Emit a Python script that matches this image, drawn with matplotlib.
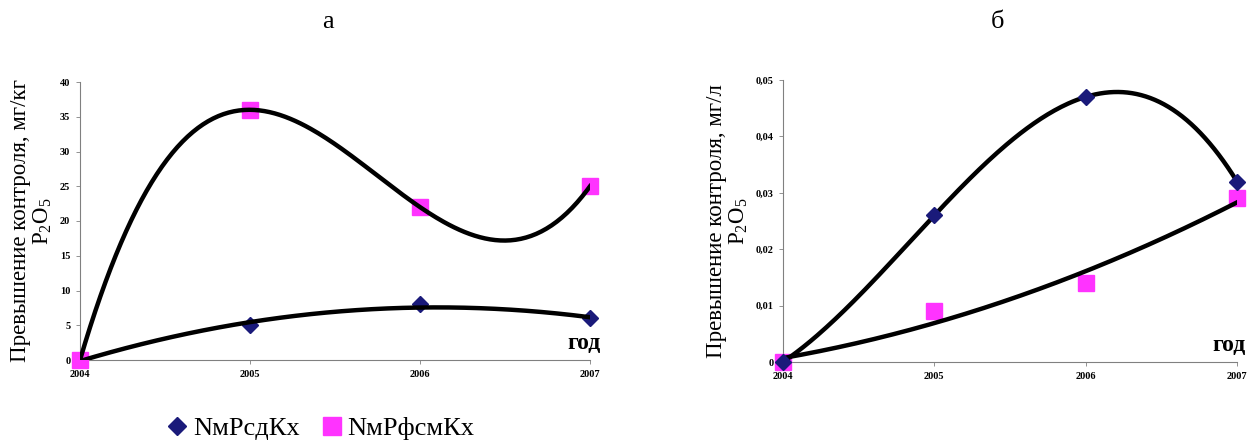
import matplotlib.pyplot as plt
import numpy as np

plt.rcParams['font.family'] = ['Liberation Serif', 'DejaVu Serif']
plt.rcParams['mathtext.fontset'] = 'custom'
plt.rcParams['mathtext.rm'] = 'Liberation Serif'
plt.rcParams['mathtext.it'] = 'Liberation Serif:italic'
plt.rcParams['mathtext.bf'] = 'Liberation Serif:bold'

years = [2004, 2005, 2006, 2007]
# a: мг/кг
a_sd = [0, 5, 8, 6]
a_fsm = [0, 36, 22, 25]
# б: мг/л
b_sd = [0, 0.026, 0.047, 0.032]
b_fsm = [0, 0.009, 0.014, 0.029]

names = ['NмРсдКх', 'NмРфсмКх']
navy = '#1a1a7a'
pink = '#ff33ff'

fig = plt.figure(figsize=(12.51, 4.42), dpi=100)
ax1 = fig.add_axes([80/1251, 82/442, 510/1251, 278/442])
ax2 = fig.add_axes([783/1251, 80/442, 454/1251, 282/442])


def trend(x, y, deg):
    x = np.array(x) - 2004
    c = np.polyfit(x, y, deg)
    xs = np.linspace(0, 3, 200)
    return xs + 2004, np.polyval(c, xs)


def setup(ax, ylim, yticks, ylabels, ylab):
    ax.set_xlim(2004, 2007)
    ax.set_ylim(*ylim)
    ax.set_xticks(years)
    ax.set_xticklabels([str(y) for y in years], fontsize=7.5, fontweight='bold')
    ax.set_yticks(yticks)
    ax.set_yticklabels(ylabels, fontsize=7.5, fontweight='bold')
    for s in ['top', 'right']:
        ax.spines[s].set_visible(False)
    for s in ['left', 'bottom']:
        ax.spines[s].set_color('#808080')
        ax.spines[s].set_linewidth(0.8)
    ax.tick_params(axis='both', length=3, width=0.6, color='#808080', pad=4)
    ax.text(1.02, 0.02, 'год', transform=ax.transAxes, ha='right', va='bottom',
            fontsize=17, fontweight='bold')
    ax.set_ylabel(ylab, fontsize=16.5, linespacing=1.05, labelpad=4)
    for sp in ax.spines.values():
        sp.set_zorder(0)


# panel а
x, y = trend(years, a_fsm, 3)
ax1.plot(x, y, color='black', lw=3.2, zorder=3)
x, y = trend(years, a_sd, 2)
ax1.plot(x, y, color='black', lw=3.2, zorder=3)
ax1.plot(years, a_sd, 'D', color=navy, ms=8, ls='none', zorder=2, clip_on=False)
ax1.plot(years, a_fsm, 's', color=pink, ms=11, ls='none', zorder=2.5, clip_on=False)
setup(ax1, (0, 40), range(0, 41, 5), [str(v) for v in range(0, 41, 5)],
      'Превышение контроля, мг/кг\nP$_2$O$_5$')

# panel б
x, y = trend(years, b_sd, 3)
ax2.plot(x, y, color='black', lw=3.2, zorder=3)
x, y = trend(years, b_fsm, 2)
ax2.plot(x, y, color='black', lw=3.2, zorder=3)
ax2.plot(years, b_sd, 'D', color=navy, ms=8, ls='none', zorder=4, clip_on=False)
ax2.plot(years, b_fsm, 's', color=pink, ms=11, ls='none', zorder=2, clip_on=False)
bt = [0, 0.01, 0.02, 0.03, 0.04, 0.05]
setup(ax2, (0, 0.05), bt, ['0', '0,01', '0,02', '0,03', '0,04', '0,05'],
      'Превышение контроля, мг/л\nP$_2$O$_5$')

fig.text(328/1251, 1 - 22/442, 'а', ha='center', va='center', fontsize=19)
fig.text(998/1251, 1 - 22/442, 'б', ha='center', va='center', fontsize=19)

# legend
h1, = ax1.plot([], [], 'D', color=navy, ms=9)
h2, = ax1.plot([], [], 's', color=pink, ms=13)
fig.legend([h1, h2], names, loc='center', bbox_to_anchor=(322/1251, 1 - 428/442),
           ncol=2, frameon=False, fontsize=19, handlelength=0.6, handletextpad=0.3,
           columnspacing=0.9, borderpad=0)

fig.savefig('out.png', dpi=100)
